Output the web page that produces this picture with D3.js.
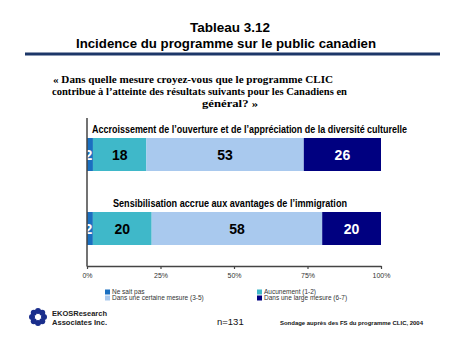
<!DOCTYPE html>
<html><head><meta charset="utf-8">
<script src="https://cdn.jsdelivr.net/npm/d3@7"></script>
<style>body{margin:0;background:#fff}svg{display:block}</style>
</head><body>
<svg id="c" width="450" height="338"></svg>
<script>
const categories = ["Accroissement de l’ouverture et de l’appréciation de la diversité culturelle", "Sensibilisation accrue aux avantages de l’immigration"];
const seriesNames = ["Ne sait pas", "Aucunement (1-2)", "Dans une certaine mesure (3-5)", "Dans une large mesure (6-7)"];
const neSaitPas = [2, 2];
const aucunement = [18, 20];
const certaine = [53, 58];
const large = [26, 20];
const tickValues = [0, 0.25, 0.5, 0.75, 1];
const tickLabels = ["0%", "25%", "50%", "75%", "100%"];
const colors = ["#1a6fc0", "#3fb8c9", "#a9c9ee", "#000080"];
const labelColors = ["#fff", "#000", "#000", "#fff"];

const svg = d3.select("#c");
const rows = categories.map((c, i) => ({cat: c, s0: neSaitPas[i], s1: aucunement[i], s2: certaine[i], s3: large[i]}));
const keys = ["s0", "s1", "s2", "s3"];
const stack = d3.stack().keys(keys).offset(d3.stackOffsetExpand)(rows);

const x = d3.scaleLinear().domain([0, 1]).range([87, 381]);
const y = d3.scaleBand().domain(categories).range([118, 266]).paddingInner(0.0);
const barTop = c => y(c) + 20;
const barH = 33;

// Titles
svg.append("text").attr("x", 230).attr("y", 32).attr("text-anchor", "middle")
  .attr("font-family", "Liberation Sans, Arial, sans-serif").attr("font-weight", "bold").attr("font-size", 13.5).text("Tableau 3.12");
svg.append("text").attr("x", 226).attr("y", 48).attr("text-anchor", "middle")
  .attr("font-family", "Liberation Sans, Arial, sans-serif").attr("font-weight", "bold").attr("font-size", 13.5)
  .attr("textLength", 300).attr("lengthAdjust", "spacingAndGlyphs").text("Incidence du programme sur le public canadien");
svg.append("rect").attr("x", 25).attr("y", 52.5).attr("width", 415).attr("height", 3).attr("fill", "#1c3768");

const sub = [
  {t: "« Dans quelle mesure croyez-vous que le programme CLIC", x: 53, w: 280, y: 83},
  {t: "contribue à l’atteinte des résultats suivants pour les Canadiens en", x: 52, w: 295, y: 95},
  {t: "général?  »", x: 202, w: 56, y: 107}
];
svg.selectAll("text.sub").data(sub).join("text").attr("class", "sub")
  .attr("x", d => d.x).attr("y", d => d.y).attr("textLength", d => d.w).attr("lengthAdjust", "spacingAndGlyphs")
  .attr("font-family", "Liberation Serif, Times New Roman, serif").attr("font-weight", "bold").attr("font-size", 10.5)
  .text(d => d.t);

// Bars
const g = svg.append("g");
stack.forEach((layer, li) => {
  g.selectAll(null).data(layer).join("rect")
    .attr("x", d => x(d[0])).attr("width", d => x(d[1]) - x(d[0]))
    .attr("y", d => barTop(d.data.cat)).attr("height", barH)
    .attr("fill", colors[li]);
  g.selectAll(null).data(layer).join("text")
    .attr("x", d => li === 0 ? x(d[0]) + 1.5 : (x(d[0]) + x(d[1])) / 2)
    .attr("y", d => barTop(d.data.cat) + barH / 2 + 5)
    .attr("text-anchor", "middle").attr("fill", labelColors[li])
    .attr("font-family", "Liberation Sans, Arial, sans-serif").attr("font-weight", "bold").attr("font-size", 14)
    .text(d => d.data[keys[li]]);
});

// Category labels
const catX = [92, 113];
const catW = [315, 234];
svg.selectAll("text.cat").data(categories).join("text").attr("class", "cat")
  .attr("x", (d, i) => catX[i]).attr("y", d => barTop(d) - 5)
  .attr("textLength", (d, i) => catW[i]).attr("lengthAdjust", "spacingAndGlyphs")
  .attr("font-family", "Liberation Sans, Arial, sans-serif").attr("font-weight", "bold").attr("font-size", 10)
  .text(d => d);

// Axes
const axis = d3.axisBottom(x).tickValues(tickValues).tickFormat((d, i) => tickLabels[i]).tickSize(3).tickSizeOuter(0);
const ax = svg.append("g").attr("transform", "translate(0,266)").call(axis);
ax.select(".domain").attr("stroke", "#444").attr("stroke-width", 1.5);
ax.selectAll(".tick line").attr("stroke", "#444").attr("stroke-width", 1.2);
ax.selectAll(".tick text").attr("font-family", "Liberation Sans, Arial, sans-serif").attr("font-size", 7).attr("fill", "#333").attr("dy", "0.9em");
svg.append("line").attr("x1", 87).attr("x2", 87).attr("y1", 118).attr("y2", 266.5).attr("stroke", "#444").attr("stroke-width", 1.5);

// Legend
const legPos = [{x: 105, y: 292}, {x: 257, y: 292}, {x: 105, y: 298}, {x: 257, y: 298}];
const leg = svg.selectAll("g.leg").data(seriesNames).join("g").attr("class", "leg")
  .attr("transform", (d, i) => `translate(${legPos[i].x},${legPos[i].y})`);
leg.append("rect").attr("x", 0).attr("y", -2.5).attr("width", 5).attr("height", 5).attr("fill", (d, i) => colors[i]);
leg.append("text").attr("x", 7).attr("y", 2.3).attr("font-family", "Liberation Sans, Arial, sans-serif")
  .attr("font-size", 6.5).attr("fill", "#333").text(d => d);

// Logo
const logo = svg.append("g").attr("transform", "translate(38,317)");
d3.range(8).forEach(k => {
  const a = k * Math.PI / 4;
  logo.append("circle").attr("cx", 6 * Math.cos(a)).attr("cy", 6 * Math.sin(a)).attr("r", 3).attr("fill", "#1a2e8c");
});
logo.append("circle").attr("r", 2).attr("fill", "#fff");
svg.append("text").attr("x", 52).attr("y", 316).attr("font-family", "Liberation Sans, Arial, sans-serif").attr("font-weight", "bold")
  .attr("font-size", 8).attr("fill", "#222").attr("textLength", 55).attr("lengthAdjust", "spacingAndGlyphs").text("EKOSResearch");
svg.append("text").attr("x", 52).attr("y", 325).attr("font-family", "Liberation Sans, Arial, sans-serif").attr("font-weight", "bold")
  .attr("font-size", 8).attr("fill", "#222").attr("textLength", 55).attr("lengthAdjust", "spacingAndGlyphs").text("Associates Inc.");

svg.append("text").attr("x", 217).attr("y", 325).attr("font-family", "Liberation Sans, Arial, sans-serif")
  .attr("font-size", 9.5).attr("fill", "#111").text("n=131");
svg.append("text").attr("x", 280).attr("y", 325).attr("font-family", "Liberation Sans, Arial, sans-serif").attr("font-weight", "bold")
  .attr("font-size", 6).attr("fill", "#111").attr("textLength", 143).attr("lengthAdjust", "spacingAndGlyphs")
  .text("Sondage auprès des FS du programme CLIC, 2004");
</script>
</body></html>
